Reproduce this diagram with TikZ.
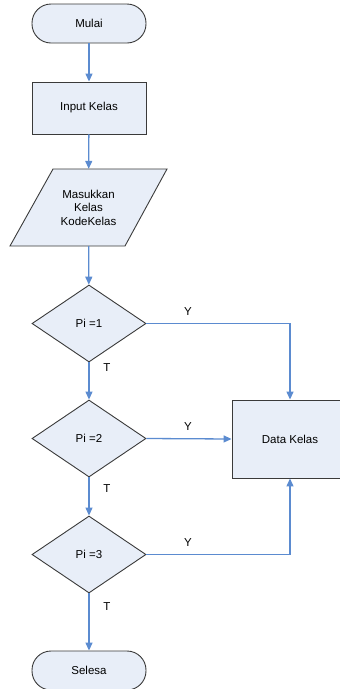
\documentclass[tikz,border=0pt]{standalone}
\usepackage{fontspec}
\setmainfont{Liberation Sans}
\usetikzlibrary{shapes.geometric,arrows.meta}
\definecolor{boxfill}{HTML}{E8EEF8}
\definecolor{boxline}{HTML}{3A3A3A}
\definecolor{flow}{HTML}{5B8BD0}
\tikzset{
  base/.style={draw=boxline, line width=0.9pt, fill=boxfill, inner sep=0pt, font=\fontsize{11.5}{13.5}\selectfont, align=center},
  term/.style={base, rectangle, rounded corners=19pt, minimum width=114pt, minimum height=39pt},
  proc/.style={base, rectangle, minimum width=114pt, minimum height=52pt},
  decision/.style={base, diamond, minimum width=114pt, minimum height=77pt},
  flowline/.style={draw=flow, line width=1.3pt, -{Triangle[width=7pt,length=8pt]}},
  plainflow/.style={draw=flow, line width=1.3pt},
  lbl/.style={font=\fontsize{11.5}{13.5}\selectfont, inner sep=0pt}
}
\begin{document}
\begin{tikzpicture}[x=1pt,y=-1pt]
\useasboundingbox (0,0) rectangle (340,689);
\node[term] (mulai) at (89,23.5) {Mulai};
\node[proc] (input) at (89,108) {Input Kelas};
\draw[base] (53,169) -- (167,169) -- (125,246) -- (10,246) -- cycle;
\node[inner sep=0pt, minimum width=157pt, minimum height=77pt, align=center, font=\fontsize{11.5}{13.5}\selectfont] (masuk) at (88.5,207.5) {Masukkan\\Kelas\\KodeKelas};
\node[decision] (d1) at (89,323.5) {Pi =1};
\node[decision] (d2) at (89,438.5) {Pi =2};
\node[decision] (d3) at (89,554.5) {Pi =3};
\node[base, rectangle, minimum width=116pt, minimum height=78pt] (data) at (290,439) {Data Kelas};
\node[term] (selesa) at (89,670.5) {Selesa};

\draw[flowline] (mulai) -- (input);
\draw[flowline] (input) -- (masuk);
\draw[flowline] (masuk) -- (d1);
\draw[flowline] (d1) -- (d2);
\draw[flowline] (d2) -- (d3);
\draw[flowline] (d3) -- (selesa);
\draw[flowline] (d1.east) -| (data.north);
\draw[flowline] (d2.east) -- (data.west);
\draw[flowline] (d3.east) -| (data.south);

\node[lbl] (y1) at (188,312) {Y};
\node[lbl] (y2) at (188,427) {Y};
\node[lbl] (y3) at (188,543) {Y};
\node[lbl] (t1) at (107,368) {T};
\node[lbl] (t2) at (107,489) {T};
\node[lbl] (t3) at (107,607) {T};
\end{tikzpicture}
\end{document}
